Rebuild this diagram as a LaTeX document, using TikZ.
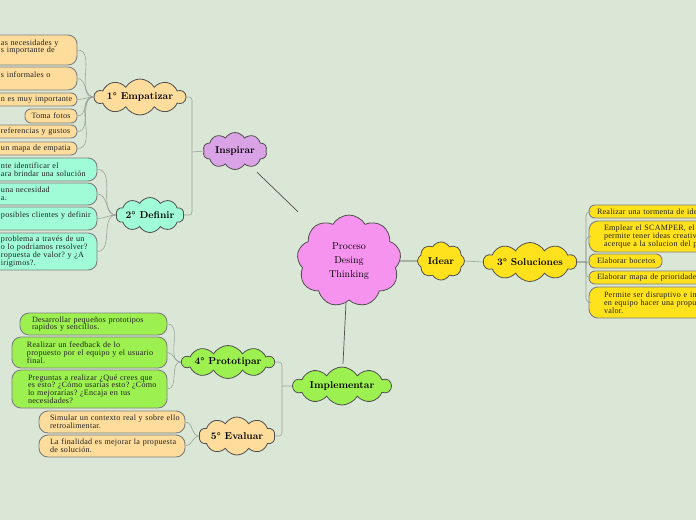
\documentclass[tikz,border=0pt]{standalone}
\usepackage{fontspec}
\newfontfamily\boxfont[LetterSpace=3]{Liberation Serif}
\usetikzlibrary{shapes.symbols,calc}
\definecolor{bg}{HTML}{DBE7D6}
\definecolor{pinkc}{HTML}{F593EE}
\definecolor{purplec}{HTML}{D9A3E5}
\definecolor{yellowc}{HTML}{FFE21C}
\definecolor{orangec}{HTML}{FDDC9C}
\definecolor{tealc}{HTML}{9FFCD6}
\definecolor{greenc}{HTML}{9CF04F}
\definecolor{edgec}{HTML}{4F4F4F}
\definecolor{boxedge}{HTML}{7F7F7F}
\definecolor{fanc}{HTML}{9AA29A}
\definecolor{txt}{HTML}{222222}
\frenchspacing
\begin{document}
\begin{tikzpicture}[x=1pt,y=-1pt,
  cloudn/.style={cloud, cloud puffs=10, cloud puff arc=120, cloud ignores aspect, draw=edgec, line width=0.8pt, inner sep=0pt, font=\bfseries\fontsize{10}{12}\selectfont, text=black},
  box/.style={draw=boxedge, line width=0.9pt, rounded corners=6pt, inner ysep=0pt, align=left, font=\boxfont\frenchspacing\fontsize{8.1}{7.8}\selectfont, text=txt},
  tall/.style={rounded corners=9pt},
  fanl/.style={draw=fanc, line width=0.6pt},
  mainl/.style={draw=edgec, line width=0.7pt}]
\fill[bg] (0,0) rectangle (696,520);
\useasboundingbox (0,0) rectangle (696,520);
\clip (0,0) rectangle (696,520);

% clouds
\node[cloudn, fill=pinkc, cloud puffs=9, minimum width=104pt, minimum height=92pt, font=\fontsize{10}{14}\selectfont, align=center] (center) at (349,261) {Proceso\\Desing\\Thinking};
\node[cloudn, fill=purplec, minimum width=64pt, minimum height=37pt] (insp) at (235,151) {Inspirar};
\node[cloudn, fill=orangec, minimum width=89pt, minimum height=36pt] (emp) at (140,97) {1° Empatizar};
\node[cloudn, fill=tealc, minimum width=68pt, minimum height=35pt] (def) at (150,215) {2° Definir};
\node[cloudn, fill=yellowc, cloud puffs=8, minimum width=47pt, minimum height=38pt] (idear) at (441,261) {Idear};
\node[cloudn, fill=yellowc, minimum width=93pt, minimum height=39pt] (sol) at (530,262) {3° Soluciones};
\node[cloudn, fill=greenc, minimum width=98pt, minimum height=38pt] (impl) at (342,386) {Implementar};
\node[cloudn, fill=greenc, minimum width=92pt, minimum height=33pt] (proto) at (228,362) {4° Prototipar};
\node[cloudn, fill=orangec, minimum width=76pt, minimum height=38pt] (eval) at (237,436) {5° Evaluar};

% Empatizar boxes
\node[box, tall, fill=orangec, minimum height=30pt, inner xsep=61pt, text width=15pt] (e1) at (8.5,50) {\mbox{as necesidades y}\\\mbox{s importante de}\\\mbox{}};
\node[box, tall, fill=orangec, minimum height=23pt, inner xsep=61pt, text width=15pt] (e2) at (8.5,78.5) {\mbox{s informales o}\\\mbox{}};
\node[box, fill=orangec, minimum height=13pt, inner xsep=61pt, text width=15pt] (e3) at (8.5,99.5) {\mbox{n es muy importante}};
\node[box, fill=orangec, minimum height=14pt, inner xsep=4pt, text width=44pt, align=center] (e4) at (51,116) {\mbox{Toma fotos}};
\node[box, fill=orangec, minimum height=13pt, inner xsep=61pt, text width=15pt] (e5) at (8.5,131.5) {\mbox{referencias y gustos}};
\node[box, fill=orangec, minimum height=13pt, inner xsep=61pt, text width=15pt] (e6) at (8.5,148.5) {\mbox{un mapa de empatia}};

% Definir boxes
\node[box, tall, fill=tealc, minimum height=23pt, inner xsep=61pt, text width=35pt] (d1) at (18.5,169.5) {\mbox{nte identificar el}\\\mbox{ara brindar una solución}};
\node[box, tall, fill=tealc, minimum height=22pt, inner xsep=61pt, text width=35pt] (d2) at (18.5,194) {\mbox{una necesidad}\\\mbox{a.}};
\node[box, tall, fill=tealc, minimum height=23pt, inner xsep=61pt, text width=35pt] (d3) at (18.5,218.5) {\mbox{posibles clientes y definir}\\\mbox{}};
\node[box, tall, fill=tealc, minimum height=37pt, inner xsep=61pt, text width=35pt] (d4) at (18.5,251.5) {\mbox{problema a través de un}\\\mbox{o lo podriamos resolver?}\\\mbox{ropuesta de valor? y ¿A}\\\mbox{irigimos?.}};

% Soluciones boxes
\node[box, fill=yellowc, minimum height=13pt, inner xsep=8pt, text width=155pt] (r1) at (674.5,211.5) {\mbox{Realizar una tormenta de idea}};
\node[box, tall, fill=yellowc, minimum height=31pt, inner xsep=15pt, text width=141pt] (r2) at (674.5,236.5) {\mbox{Emplear el SCAMPER, el cu}\\\mbox{permite tener ideas creativ}\\\mbox{acerque a la solucion del pr}};
\node[box, fill=yellowc, minimum height=14pt, inner xsep=8pt, text width=57pt] (r3) at (625.5,261) {\mbox{Elaborar bocetos}};
\node[box, fill=yellowc, minimum height=13pt, inner xsep=8pt, text width=155pt] (r4) at (674.5,277.5) {\mbox{Elaborar mapa de prioridades}};
\node[box, tall, fill=yellowc, minimum height=31pt, inner xsep=15pt, text width=141pt] (r5) at (674.5,302.5) {\mbox{Permite ser disruptivo e in}\\\mbox{en equipo hacer una propu}\\\mbox{valor.}};

% Prototipar boxes
\node[box, tall, fill=greenc, minimum height=22pt, inner xsep=12pt, text width=123pt] (p1) at (93.5,324) {\mbox{Desarrollar pequeños prototipos}\\\mbox{rapidos y sencillos.}};
\node[box, tall, fill=greenc, minimum height=31pt, inner xsep=15pt, text width=125pt] (p2) at (89.5,352.5) {\mbox{Realizar un feedback de lo}\\\mbox{propuesto por el equipo y el usuario}\\\mbox{final.}};
\node[box, tall, fill=greenc, minimum height=38pt, inner xsep=16pt, text width=123pt] (p3) at (89.5,389) {\mbox{Preguntas a realizar ¿Qué crees que}\\\mbox{es esto? ¿Cómo usarías esto? ¿Cómo}\\\mbox{lo mejorarías? ¿Encaja en tus}\\\mbox{necesidades?}};

% Evaluar boxes
\node[box, tall, fill=orangec, minimum height=22pt, inner xsep=11pt, text width=124pt] (v1) at (112,422) {\mbox{Simular un contexto real y sobre ello}\\\mbox{retroalimentar.}};
\node[box, tall, fill=orangec, minimum height=22pt, inner xsep=11pt, text width=124pt] (v2) at (112,446) {\mbox{La finalidad es mejorar la propuesta}\\\mbox{de solución.}};

% connectors
\coordinate (bI) at (192,152);
\coordinate (bM) at (282,386);
\coordinate (bR) at (586,262);
\foreach \b in {e1,e2,e3,e4,e5,e6} \draw[fanl] (emp.west) to[out=180,in=0] (\b.east);
\foreach \b in {d1,d2,d3,d4} \draw[fanl] (def.west) to[out=180,in=0] (\b.east);
\foreach \b in {p1,p2,p3} \draw[fanl] (proto.west) to[out=180,in=0] (\b.east);
\foreach \b in {v1,v2} \draw[fanl] (eval.west) to[out=180,in=0] (\b.east);
\foreach \b in {r1,r2,r3,r4,r5} \draw[fanl, rounded corners=4pt] (bR) |- (\b.west);
\draw[fanl, rounded corners=3pt] (emp.east) -| (bI) |- (def.east);
\draw[fanl] (insp.west) -- (bI);
\draw[fanl, rounded corners=3pt] (proto.east) -| (bM) |- (eval.east);
\draw[fanl] (impl.west) -- (bM);
\draw[mainl] (sol.east) -- (bR);
\draw[mainl] ($(insp)!0.193!(center)$) -- ($(insp)!0.553!(center)$);
\draw[mainl] (center.east) -- (idear.west);
\draw[fanl] (idear.east) -- (sol.west);
\draw[mainl] ($(center.south)+(-3,2)$) -- ($(impl.north)+(1,-3)$);
\end{tikzpicture}
\end{document}
